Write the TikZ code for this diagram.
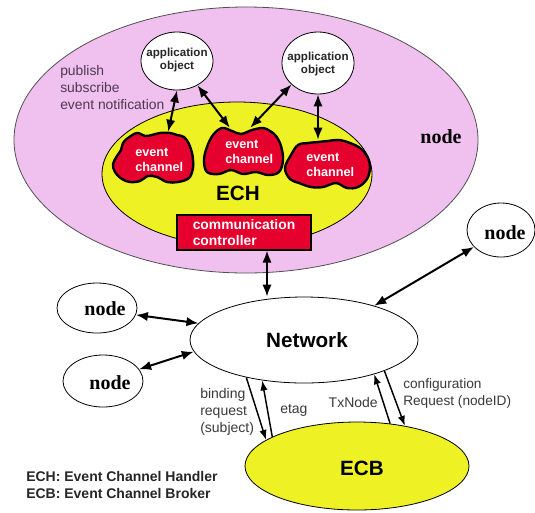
\documentclass[tikz,border=0pt]{standalone}
\usepackage{fontspec}
\setmainfont{Liberation Sans}
\newfontfamily\nodeserif{Liberation Serif}
\usetikzlibrary{shapes.geometric,arrows.meta}

\newcommand\px{0.75pt}
\definecolor{hostpink}{HTML}{F0C0EE}
\definecolor{hostedge}{HTML}{505050}
\definecolor{echyellow}{HTML}{EEF224}
\definecolor{chanred}{HTML}{E6002E}
\definecolor{notetext}{HTML}{4E3A52}
\definecolor{msgtext}{HTML}{3A3A3A}

\begin{document}
\begin{tikzpicture}[x=0.75pt,y=-0.75pt,
  shapeell/.style={ellipse, draw, inner sep=0pt, line width=0.6pt},
  hostell/.style={shapeell, fill=hostpink, draw=hostedge},
  yellowell/.style={shapeell, fill=echyellow, draw=black},
  whiteell/.style={shapeell, fill=white, draw=black},
  cloudline/.style={draw=black, fill=chanred, line width=1.8pt, line join=round},
  cloudbox/.style={rectangle, inner sep=0pt},
  chantext/.style={align=left, text=white, inner sep=0pt,
    font=\bfseries\fontsize{9.5}{11.25}\selectfont},
  apptext/.style={align=center, text=black!85, inner sep=0pt,
    font=\bfseries\fontsize{8.7}{10}\selectfont},
  nodeword/.style={inner sep=0pt, font=\nodeserif\bfseries\fontsize{15}{18}\selectfont},
  bigsans/.style={inner sep=0pt, font=\bfseries\fontsize{15.5}{18}\selectfont},
  msg/.style={align=left, text=msgtext, inner sep=0pt,
    font=\fontsize{10.5}{12.5}\selectfont},
  dbl/.style={{Latex[length=9pt,width=7pt]}-{Latex[length=9pt,width=7pt]}, line width=1.5pt},
  one/.style={-{Latex[length=7.5pt,width=5.5pt]}, line width=1.1pt}
]
\useasboundingbox (0,0) rectangle (535,512);
\fill[white] (0,0) rectangle (535,512);

% host node with its event channel handler
\node[hostell, minimum width=464*\px, minimum height=266*\px] (host) at (246,140) {};
\node[nodeword] (hostname) at (441,137) {node};
\node[anchor=west, align=left, text=notetext, inner sep=0pt,
  font=\fontsize{10.4}{12.75}\selectfont] (pubsub) at (60,88)
  {publish\\subscribe\\event notification};
\node[yellowell, minimum width=270*\px, minimum height=144*\px] (ech) at (237,174) {};
\node[bigsans] (echname) at (238,193) {ECH};

% event channels
\filldraw[cloudline] plot[smooth cycle, tension=0.6] coordinates {
  (123,143) (128,138) (137,133) (145,136) (152,135) (160,133) (170,133)
  (177,135) (184,137) (189,144) (192,153) (193,160) (193,168) (189,178) (178,182) (167,182)
  (157,177) (148,176) (140,181) (130,182) (122,179) (115,172) (113,164) (117,156) (121,150)};
\filldraw[cloudline] plot[smooth cycle, tension=0.6] coordinates {
  (204,160) (207,147) (213,135) (222,128) (232,131) (241,134) (252,130)
  (263,128) (270,131) (276,136) (281,146) (283,160) (279,172) (268,175) (256,172)
  (243,174) (231,170) (219,174) (207,172)};
\filldraw[cloudline] plot[smooth cycle, tension=0.6] coordinates {
  (291,155) (298,145) (308,143) (318,142) (328,141) (339,140) (350,143)
  (360,148) (367,156) (370,167) (367,179) (358,187) (347,188) (336,183)
  (323,187) (311,187) (299,183) (290,179) (285,168)};
\node[cloudbox, minimum width=80*\px, minimum height=50*\px] (ec1) at (153,157) {};
\node[cloudbox, minimum width=81*\px, minimum height=47*\px] (ec2) at (242.5,151.5) {};
\node[cloudbox, minimum width=85*\px, minimum height=48*\px] (ec3) at (327.5,164) {};
\node[chantext, anchor=west] (ec1t) at (135,159.5) {event\\channel};
\node[chantext, anchor=west] (ec2t) at (225,152) {event\\channel};
\node[chantext, anchor=west] (ec3t) at (306,164.5) {event\\channel};

% application objects
\node[whiteell, minimum width=72*\px, minimum height=58*\px] (ao1) at (177,61) {};
\node[apptext] (ao1t) at (177,60) {application\\object};
\node[whiteell, minimum width=72*\px, minimum height=62*\px] (ao2) at (318,63) {};
\node[apptext] (ao2t) at (318,64) {application\\object};

% communication controller
\node[rectangle, draw=black, fill=chanred, line width=0.8pt, text=white,
  minimum width=134*\px, minimum height=35*\px, align=left, inner sep=0pt,
  font=\bfseries\fontsize{10.4}{12.5}\selectfont] (cc) at (244,232.5)
  {communication\\controller};

% network and the other nodes
\node[whiteell, minimum width=228*\px, minimum height=86*\px] (net) at (304,340) {};
\node[bigsans] (netname) at (307,340) {Network};
\node[whiteell, minimum width=80*\px, minimum height=50*\px] (n1) at (97,308) {};
\node[nodeword] (n1t) at (105,309) {node};
\node[whiteell, minimum width=80*\px, minimum height=52*\px] (n2) at (103,381) {};
\node[nodeword] (n2t) at (110,383) {node};
\node[whiteell, minimum width=68*\px, minimum height=54*\px] (n3) at (501,230) {};
\node[nodeword] (n3t) at (505,233) {node};

% event channel broker
\node[yellowell, minimum width=224*\px, minimum height=88*\px] (ecb) at (357,466) {};
\node[bigsans] (ecbname) at (362,468) {ECB};

% connectors
\coordinate (ccx) at (267,0);
\draw[dbl] (ao1.south) -- (ec1.59);
\draw[dbl] (ao1.-50) -- (ec2.118);
\draw[dbl] (ao2.-141) -- (ec2.72);
\draw[dbl] (ao2.south) -- (ao2.south |- ec3.north);
\draw[dbl] (cc.south -| ccx) -- (net.north -| ccx);
\draw[dbl] (n1.-10) -- (net.171);
\draw[dbl] (n2.18) -- (net.186);
\draw[dbl] (n3.212) -- (net.26);
\draw[one] (net.213) -- (ecb.164);
\draw[one] (ecb.161) -- (net.224);
\draw[one] (ecb.52) -- (net.334);
\draw[one] (net.339) -- (ecb.40);

% message labels
\node[msg, anchor=west] (bindlbl) at (200,412) {binding\\request\\(subject)};
\node[msg, anchor=west] (etaglbl) at (280,410) {etag};
\node[msg, anchor=east] (txlbl) at (378,402) {TxNode};
\node[msg, anchor=west, font=\fontsize{10.25}{12.5}\selectfont] (cfglbl) at (403,393.5)
  {configuration\\Request (nodeID)};

% legend
\node[anchor=west, align=left, inner sep=0pt, text=black!85,
  font=\bfseries\fontsize{10.5}{12.75}\selectfont] (legend) at (26,484.5)
  {ECH: Event Channel Handler\\ECB: Event Channel Broker};
\end{tikzpicture}
\end{document}
